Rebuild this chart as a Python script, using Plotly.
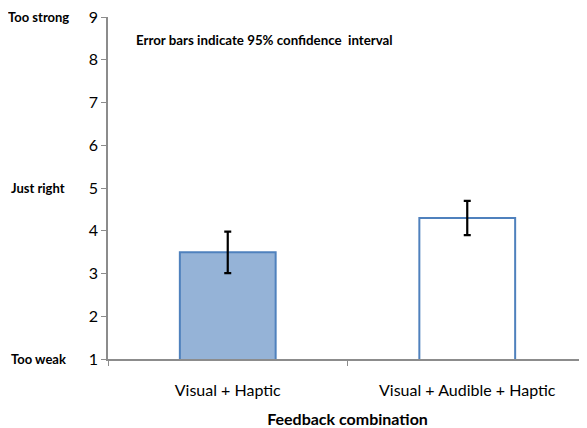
import plotly.graph_objects as go

categories = ["Visual + Haptic", "Visual + Audible + Haptic"]
means = [3.5, 4.3]
err_plus = [0.48, 0.40]
err_minus = [0.49, 0.40]
fills = ["#95B3D7", "#FFFFFF"]
y_ticks = [1, 2, 3, 4, 5, 6, 7, 8, 9]
scale_labels = {9: "Too strong", 5: "Just right", 1: "Too weak"}

FONT = "Lato, Carlito, 'Liberation Sans', sans-serif"

fig = go.Figure()
fig.add_trace(go.Bar(
    x=categories, y=means, width=0.4,
    marker=dict(color=fills, line=dict(color="#4F81BD", width=2)),
    error_y=dict(type="data", array=err_plus, arrayminus=err_minus,
                 color="black", thickness=2.2, width=3.5, visible=True),
))

for v, txt in scale_labels.items():
    fig.add_annotation(x=0, xref="paper", xshift=-70, y=v, yref="y",
                       text=f"<b>{txt}</b>", showarrow=False,
                       xanchor="center", yanchor="middle",
                       font=dict(family=FONT, size=13, color="black"))

fig.add_annotation(x=0.055, xref="paper", y=8.46, yref="y",
                   text="<b>Error bars indicate 95% confidence  interval</b>",
                   showarrow=False, xanchor="left", yanchor="middle",
                   font=dict(family=FONT, size=13.3, color="black"))

# page body has an 8px margin, so the figure is offset by 8px in the window
fig.update_layout(
    width=579, height=420,
    margin=dict(l=100, r=0, t=9, b=69),
    paper_bgcolor="white", plot_bgcolor="white",
    showlegend=False, bargap=0.6,
    font=dict(family=FONT, size=16, color="black"),
)
fig.update_xaxes(
    automargin=False,
    showline=True, linecolor="#8c8c8c", linewidth=1.5,
    ticks="outside", tickson="boundaries", ticklen=5, tickcolor="#8c8c8c",
    ticklabelstandoff=16, ticklabeloverflow="allow",
    showgrid=False, tickfont=dict(size=16),
    title=dict(text="<b>Feedback combination</b>", font=dict(size=16), standoff=16),
)
fig.update_yaxes(
    automargin=False, ticklabeloverflow="allow",
    range=[1, 9], tickvals=y_ticks, showline=True, linecolor="#8c8c8c", linewidth=1.5,
    ticks="outside", ticklen=5, tickcolor="#8c8c8c", showgrid=False, zeroline=False,
    tickfont=dict(size=16),
)

fig.write_html("out.html")
